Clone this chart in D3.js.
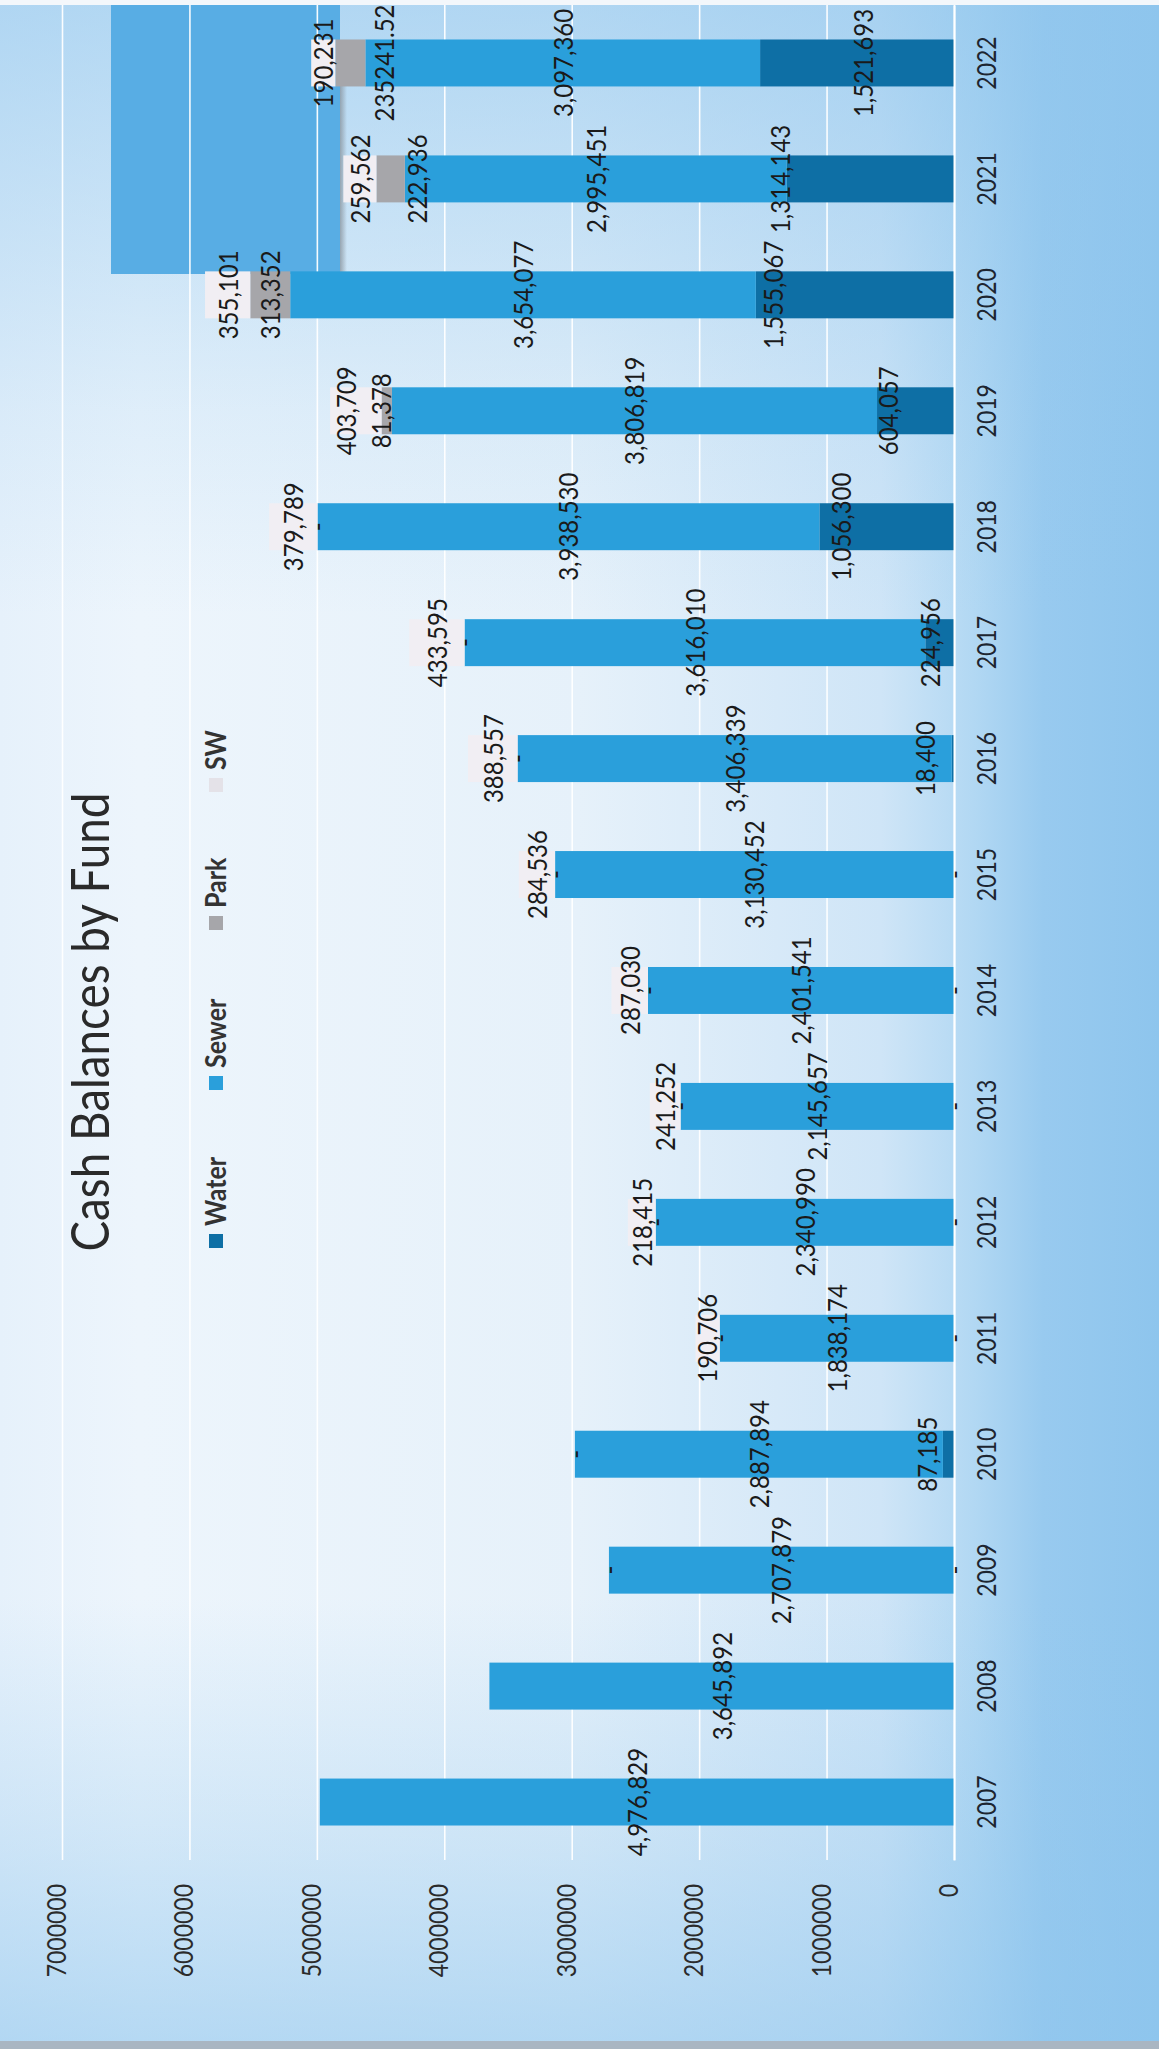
<!DOCTYPE html>
<html><head><meta charset="utf-8">
<script src="https://cdn.jsdelivr.net/npm/d3@7/dist/d3.min.js"></script>
<style>html,body{margin:0;padding:0;background:#fff}svg{display:block}</style>
</head><body>
<script>
const years = [2007,2008,2009,2010,2011,2012,2013,2014,2015,2016,2017,2018,2019,2020,2021,2022];
const water = [null,null,0,87185,0,0,0,0,0,18400,224956,1056300,604057,1555067,1314143,1521693];
const sewer = [4976829,3645892,2707879,2887894,1838174,2340990,2145657,2401541,3130452,3406339,3616010,3938530,3806819,3654077,2995451,3097360];
const park  = [null,null,0,0,0,0,0,0,0,0,0,0,81378,313352,222936,235241.52];
const sw    = [null,null,null,null,190706,218415,241252,287030,284536,388557,433595,379789,403709,355101,259562,190231];
const seriesNames = ["Water","Sewer","Park","SW"];
const valueTicks = [0,1000000,2000000,3000000,4000000,5000000,6000000,7000000];
const title = "Cash Balances by Fund";

const colors = {Water:"#0e6fa5", Sewer:"#2a9fdb", Park:"#a6a6aa", SW:"#f1eef3"};
// manual label offsets (screen px) seen in the picture
const labelNudge = {"Water-2010":-21,"Water-2016":-28,"Water-2017":-10,"Water-2018":-46,"Water-2019":-27,
  "Water-2020":-82,"Water-2021":-90,"Water-2022":6,"Park-2021":26,"Park-2022":34,"Park-2019":-6,"SW-2019":-10};

const W = 1159, H = 2049, K = 1.15;
const FONT = "Lato, 'Open Sans', sans-serif";
const svg = d3.select("body").append("svg").attr("width", W).attr("height", H);
const defs = svg.append("defs");
const hg = defs.append("linearGradient").attr("id","bgh").attr("gradientUnits","userSpaceOnUse")
  .attr("x1",0).attr("y1",0).attr("x2",W).attr("y2",0);
[[0,"#e6f1fb"],[0.12,"#edf5fc"],[0.5,"#e6f1fa"],[0.76,"#cfe5f7"],[0.84,"#b2d8f3"],[0.9,"#98caef"],[1,"#8ec5ed"]]
  .forEach(([o,c])=>hg.append("stop").attr("offset",o).attr("stop-color",c));
const vg = defs.append("linearGradient").attr("id","bgv").attr("gradientUnits","userSpaceOnUse")
  .attr("x1",0).attr("y1",0).attr("x2",0).attr("y2",H);
[[0,0.62],[0.2,0.15],[0.3,0],[0.78,0],[0.9,0.3],[1,0.6]]
  .forEach(([o,a])=>vg.append("stop").attr("offset",o).attr("stop-color","#8ec5ed").attr("stop-opacity",a));
const sh = defs.append("linearGradient").attr("id","shadow");
sh.append("stop").attr("offset",0).attr("stop-color","#8a96a0").attr("stop-opacity",0.8);
sh.append("stop").attr("offset",1).attr("stop-color","#8a96a0").attr("stop-opacity",0);

svg.append("rect").attr("width",W).attr("height",H).attr("fill","url(#bgh)");
svg.append("rect").attr("width",W).attr("height",H).attr("fill","url(#bgv)");
svg.append("rect").attr("width",W).attr("height",5).attr("fill","#f3f7fb");
svg.append("rect").attr("y",H-8).attr("width",W).attr("height",8).attr("fill","#a9b6c2");

const x = d3.scaleLinear().domain([0,7000000]).range([954,62]);
const y = d3.scaleBand().domain(years).range([1860,5]).paddingInner(0.595).paddingOuter(0.2975);

// decorative block at top
svg.append("rect").attr("x",111).attr("y",5).attr("width",229).attr("height",269).attr("fill","#58ade4");
svg.append("rect").attr("x",340).attr("y",60).attr("width",7).attr("height",212).attr("fill","url(#shadow)");

function rot(xc, yy, size){ return `translate(${xc + 0.358*size*K},${yy}) rotate(-90) scale(1,${K})`; }

// gridlines
const grid = svg.append("g").attr("transform","translate(0,1860)")
  .call(d3.axisTop(x).tickValues(valueTicks).tickSize(1855).tickFormat(""));
grid.select(".domain").remove();
grid.selectAll("line").attr("stroke","#ffffff").attr("stroke-width",1.6).attr("stroke-opacity",0.95);

// value tick labels
const vax = svg.append("g").attr("transform","translate(0,1860)")
  .call(d3.axisTop(x).tickValues(valueTicks).tickSize(0).tickFormat(d3.format("d")));
vax.select(".domain").remove();
vax.selectAll("text").attr("x",null).attr("y",null).attr("dy",null)
  .attr("font-family",FONT).attr("font-size",23).attr("fill","#2b2b2b").attr("text-anchor","end")
  .attr("transform", rot(-6, 24, 23));

// stacked bars
const rows = years.map((yr,i)=>({year:yr, Water:water[i], Sewer:sewer[i], Park:park[i], SW:sw[i]}));
const stack = d3.stack().keys(seriesNames).value((d,k)=>d[k]||0);
const layers = stack(rows);
const bars = svg.append("g");
layers.forEach(layer=>{
  bars.append("g").attr("fill",colors[layer.key]).selectAll("rect").data(layer).join("rect")
    .attr("y",d=>y(d.data.year)).attr("height",y.bandwidth())
    .attr("x",d=>x(d[1])).attr("width",d=>Math.max(0,x(d[0])-x(d[1])));
});

// category axis
const cax = svg.append("g").attr("transform","translate(954,0)")
  .call(d3.axisRight(y).tickSize(0).tickFormat(d3.format("d")));
cax.select(".domain").attr("stroke","#ffffff").attr("stroke-width",2);
cax.selectAll("text").attr("x",null).attr("dy",null)
  .attr("font-family",FONT).attr("font-size",23).attr("fill","#1d2530").attr("text-anchor","middle")
  .attr("transform", rot(33, 0, 23));

// data labels
const fmt = v => v===0 ? "-" : (Number.isInteger(v) ? d3.format(",")(v) : String(v));
const lab = svg.append("g").attr("font-family",FONT).attr("font-size",24).attr("fill","#1a1a1a").attr("text-anchor","middle");
layers.forEach(layer=>{
  layer.forEach(d=>{
    const v = d.data[layer.key];
    if (v===null || v===undefined) return;
    const xc = (x(d[0])+x(d[1]))/2 + (labelNudge[layer.key+"-"+d.data.year]||0);
    const yc = y(d.data.year)+y.bandwidth()/2;
    lab.append("text").attr("transform",rot(xc,yc,24)).text(fmt(v));
  });
});

// title
svg.append("text").attr("font-family",FONT).attr("font-size",46).attr("fill","#2a2a2a")
  .attr("text-anchor","middle").attr("textLength",459).attr("lengthAdjust","spacingAndGlyphs")
  .attr("transform",rot(90,1022,46)).text(title);

// legend
const legY = {Water:1241, Sewer:1083, Park:923, SW:785};
const leg = svg.append("g");
seriesNames.forEach(k=>{
  leg.append("rect").attr("x",209).attr("y",legY[k]-7).attr("width",14).attr("height",14).attr("fill",colors[k]==="#f1eef3"?"#e4e2e8":colors[k]);
  leg.append("text").attr("font-family",FONT).attr("font-size",25).attr("font-weight","bold").attr("fill","#333")
    .attr("text-anchor","start").attr("transform",rot(216,legY[k]-15,25)).text(k);
});
</script>
</body></html>
